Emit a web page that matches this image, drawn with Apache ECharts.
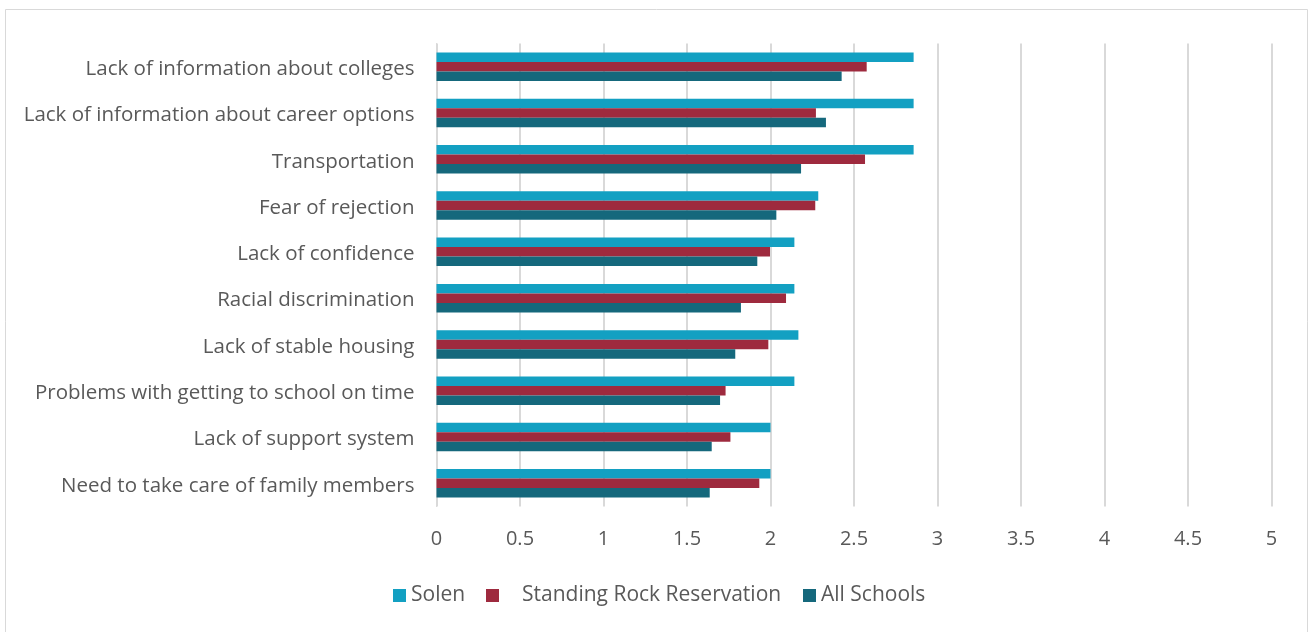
<!DOCTYPE html>
<html>
<head>
<meta charset="utf-8">
<script src="https://cdn.jsdelivr.net/npm/echarts@6/dist/echarts.min.js"></script>
<style>
html,body{margin:0;padding:0;background:#fff;}
#chart{width:1309px;height:632px;}
</style>
</head>
<body>
<div id="chart"></div>
<script>
const categories = [
  "Lack of information about colleges",
  "Lack of information about career options",
  "Transportation",
  "Fear of rejection",
  "Lack of confidence",
  "Racial discrimination",
  "Lack of stable housing",
  "Problems with getting to school on time",
  "Lack of support system",
  "Need to take care of family members"
];
const seriesNames = ["Solen", "Standing Rock Reservation", "All Schools"];
const solen = [2.857, 2.857, 2.857, 2.286, 2.143, 2.143, 2.167, 2.143, 2.0, 2.0];
const standingRock = [2.576, 2.272, 2.566, 2.268, 1.997, 2.093, 1.987, 1.731, 1.76, 1.933];
const allSchools = [2.426, 2.332, 2.183, 2.035, 1.921, 1.823, 1.789, 1.698, 1.648, 1.636];
const xTicks = [0, 0.5, 1, 1.5, 2, 2.5, 3, 3.5, 4, 4.5, 5];

const colors = ["#13A0C2", "#9E2A3E", "#15687C"];
const font = "Open Sans";
const chart = echarts.init(document.getElementById('chart'), null, {renderer: 'canvas'});
const mk = (name, data, i) => ({
  name: name, type: 'bar', data: data,
  barWidth: 9.5, barGap: '0%',
  itemStyle: {color: colors[i]},
  emphasis: {disabled: true}
});
const legendLefts = [393, 486, 803];
const legendTextPad = [0, 18, 0];
chart.setOption({
  animation: false,
  backgroundColor: '#fff',
  graphic: [{
    type: 'rect', silent: true, z: -1,
    shape: {x: 5.5, y: 9.5, width: 1302, height: 630},
    style: {fill: 'none', stroke: '#d9d9d9', lineWidth: 1}
  }],
  grid: {left: 436.5, right: 37.5, top: 43.5, height: 463, containLabel: false},
  legend: seriesNames.map((n, i) => ({
    left: legendLefts[i], top: 585, padding: 0,
    itemWidth: 13, itemHeight: 13,
    icon: 'rect',
    selectedMode: false,
    textStyle: {fontFamily: font, fontSize: 21, color: '#595959', padding: [0, 0, 0, legendTextPad[i]]},
    data: [n]
  })),
  xAxis: {
    type: 'value', min: 0, max: 5, interval: 0.5,
    axisLine: {show: false},
    axisTick: {show: false},
    splitLine: {show: true, lineStyle: {color: '#d9d9d9', width: 2}},
    axisLabel: {
      fontFamily: font, fontSize: 20, color: '#595959', margin: 23,
      formatter: v => String(xTicks.find(t => Math.abs(t - v) < 1e-9) ?? v)
    }
  },
  yAxis: {
    type: 'category', data: categories, inverse: true,
    axisLine: {show: true, lineStyle: {color: '#d9d9d9', width: 1}},
    axisTick: {show: false},
    axisLabel: {
      margin: 22,
      formatter: v => '{a|' + v + '}',
      rich: {a: {fontFamily: font, fontSize: 20.5, color: '#595959', padding: [5, 0, 0, 0]}}
    }
  },
  series: [mk(seriesNames[0], solen, 0), mk(seriesNames[1], standingRock, 1), mk(seriesNames[2], allSchools, 2)]
});
</script>
</body>
</html>
